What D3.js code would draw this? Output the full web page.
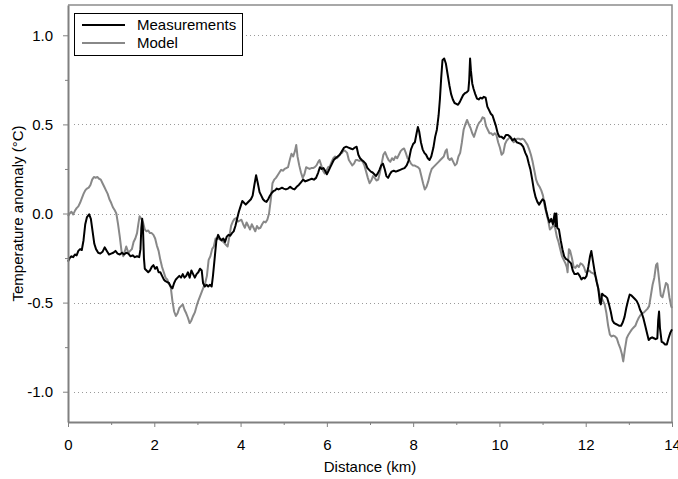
<!DOCTYPE html>
<html>
<head>
<meta charset="utf-8">
<script src="https://cdn.jsdelivr.net/npm/d3@7"></script>
<style>
  html, body { margin: 0; padding: 0; background: #fff; }
  svg { display: block; font-family: "Liberation Sans", Arial, sans-serif; }
</style>
</head>
<body>
<svg id="chart" width="678" height="479"></svg>
<script>
// Temperature anomaly along the transect: [distance km, anomaly °C]
const measurements = [
  [0.00,-0.27],[0.04,-0.25],[0.08,-0.24],[0.12,-0.245],[0.16,-0.23],[0.20,-0.235],[0.24,-0.21],[0.28,-0.20],
  [0.32,-0.205],[0.36,-0.15],[0.40,-0.06],[0.44,-0.02],[0.49,-0.005],[0.53,-0.03],[0.57,-0.10],[0.61,-0.17],
  [0.65,-0.20],[0.70,-0.22],[0.75,-0.225],[0.80,-0.215],[0.85,-0.19],[0.90,-0.21],[0.95,-0.23],[1.00,-0.225],
  [1.05,-0.22],[1.10,-0.21],[1.15,-0.225],[1.20,-0.23],[1.25,-0.22],[1.30,-0.23],[1.35,-0.22],[1.40,-0.225],
  [1.45,-0.24],[1.50,-0.235],[1.55,-0.245],[1.60,-0.24],[1.65,-0.245],[1.68,-0.20],[1.70,-0.08],[1.72,-0.03],
  [1.74,-0.10],[1.76,-0.25],[1.78,-0.31],[1.82,-0.32],[1.86,-0.33],[1.90,-0.32],[1.94,-0.30],[1.98,-0.29],
  [2.02,-0.31],[2.06,-0.30],[2.10,-0.33],[2.14,-0.33],[2.18,-0.35],[2.22,-0.37],[2.26,-0.38],[2.30,-0.385],
  [2.34,-0.39],[2.38,-0.41],[2.42,-0.42],[2.46,-0.39],[2.50,-0.37],[2.54,-0.36],[2.58,-0.35],[2.62,-0.36],
  [2.66,-0.34],[2.70,-0.36],[2.74,-0.35],[2.78,-0.33],[2.82,-0.36],[2.86,-0.32],[2.90,-0.34],[2.94,-0.36],
  [2.98,-0.34],[3.02,-0.33],[3.06,-0.31],[3.10,-0.32],[3.13,-0.39],[3.17,-0.41],[3.21,-0.40],[3.25,-0.41],
  [3.29,-0.40],[3.33,-0.41],[3.36,-0.35],[3.40,-0.25],[3.44,-0.15],[3.48,-0.12],[3.52,-0.14],[3.56,-0.15],
  [3.60,-0.14],[3.64,-0.16],[3.68,-0.13],[3.72,-0.12],[3.76,-0.125],[3.80,-0.11],[3.84,-0.10],[3.88,-0.07],
  [3.92,-0.03],[3.96,0.01],[4.00,0.04],[4.04,0.07],[4.08,0.06],[4.12,0.05],[4.16,0.06],[4.20,0.07],
  [4.24,0.08],[4.28,0.10],[4.32,0.16],[4.36,0.215],[4.40,0.17],[4.44,0.12],[4.48,0.10],[4.52,0.08],
  [4.56,0.07],[4.60,0.065],[4.64,0.08],[4.68,0.10],[4.72,0.115],[4.76,0.125],[4.80,0.13],[4.84,0.14],
  [4.88,0.135],[4.92,0.14],[4.96,0.145],[5.00,0.14],[5.05,0.135],[5.10,0.14],[5.15,0.15],[5.20,0.14],
  [5.25,0.135],[5.30,0.15],[5.35,0.16],[5.40,0.175],[5.45,0.19],[5.50,0.18],[5.55,0.185],[5.60,0.19],
  [5.65,0.195],[5.70,0.19],[5.75,0.20],[5.80,0.23],[5.84,0.26],[5.88,0.25],[5.92,0.255],[5.96,0.24],
  [6.00,0.22],[6.04,0.24],[6.08,0.26],[6.12,0.28],[6.16,0.30],[6.20,0.31],[6.25,0.32],[6.30,0.33],
  [6.35,0.35],[6.40,0.37],[6.45,0.375],[6.50,0.37],[6.55,0.365],[6.60,0.36],[6.65,0.37],[6.69,0.375],
  [6.73,0.33],[6.77,0.31],[6.81,0.30],[6.86,0.29],[6.90,0.28],[6.94,0.255],[6.98,0.245],[7.02,0.235],
  [7.06,0.23],[7.10,0.22],[7.14,0.21],[7.18,0.225],[7.22,0.245],[7.26,0.27],[7.30,0.28],[7.34,0.25],
  [7.38,0.21],[7.42,0.20],[7.46,0.22],[7.50,0.235],[7.55,0.24],[7.60,0.235],[7.65,0.24],[7.70,0.245],
  [7.75,0.25],[7.80,0.255],[7.85,0.27],[7.90,0.30],[7.95,0.36],[8.00,0.39],[8.04,0.40],[8.08,0.45],
  [8.11,0.485],[8.14,0.46],[8.18,0.40],[8.22,0.36],[8.26,0.34],[8.30,0.33],[8.34,0.31],[8.38,0.30],
  [8.42,0.32],[8.47,0.37],[8.51,0.43],[8.55,0.47],[8.59,0.55],[8.62,0.64],[8.65,0.76],[8.68,0.86],
  [8.72,0.87],[8.76,0.84],[8.80,0.78],[8.84,0.72],[8.88,0.67],[8.92,0.64],[8.96,0.62],[9.00,0.615],
  [9.04,0.61],[9.08,0.625],[9.12,0.645],[9.16,0.665],[9.20,0.675],[9.24,0.68],[9.28,0.69],[9.30,0.75],
  [9.32,0.87],[9.34,0.80],[9.37,0.73],[9.40,0.70],[9.44,0.67],[9.48,0.645],[9.52,0.64],[9.56,0.65],
  [9.60,0.645],[9.64,0.655],[9.68,0.65],[9.72,0.60],[9.76,0.58],[9.80,0.56],[9.84,0.55],[9.88,0.52],
  [9.92,0.49],[9.96,0.45],[10.00,0.43],[10.05,0.43],[10.10,0.42],[10.15,0.44],[10.20,0.44],[10.25,0.43],
  [10.30,0.41],[10.35,0.42],[10.40,0.40],[10.45,0.395],[10.50,0.39],[10.55,0.375],[10.60,0.34],[10.64,0.32],
  [10.68,0.28],[10.72,0.245],[10.76,0.19],[10.80,0.13],[10.84,0.09],[10.88,0.065],[10.92,0.05],[10.96,0.065],
  [11.00,0.08],[11.04,0.07],[11.08,0.02],[11.12,-0.02],[11.16,-0.05],[11.20,-0.03],[11.24,-0.06],[11.28,0.00],
  [11.30,-0.07],[11.32,0.00],[11.34,-0.08],[11.38,-0.09],[11.42,-0.15],[11.46,-0.20],[11.50,-0.24],[11.54,-0.255],
  [11.58,-0.26],[11.62,-0.27],[11.66,-0.28],[11.70,-0.32],[11.74,-0.34],[11.78,-0.34],[11.82,-0.335],[11.86,-0.35],
  [11.90,-0.37],[11.94,-0.36],[11.98,-0.365],[12.02,-0.35],[12.06,-0.30],[12.10,-0.24],[12.13,-0.21],[12.17,-0.27],
  [12.21,-0.33],[12.25,-0.38],[12.29,-0.42],[12.33,-0.50],[12.35,-0.51],[12.38,-0.45],[12.42,-0.46],[12.46,-0.465],
  [12.50,-0.475],[12.54,-0.51],[12.58,-0.55],[12.62,-0.60],[12.66,-0.615],[12.70,-0.62],[12.74,-0.625],[12.78,-0.63],
  [12.82,-0.63],[12.86,-0.61],[12.90,-0.58],[12.94,-0.53],[12.98,-0.49],[13.02,-0.455],[13.06,-0.46],[13.10,-0.47],
  [13.14,-0.48],[13.18,-0.49],[13.22,-0.51],[13.26,-0.54],[13.30,-0.56],[13.34,-0.59],[13.38,-0.63],[13.42,-0.67],
  [13.46,-0.71],[13.50,-0.70],[13.54,-0.695],[13.58,-0.70],[13.62,-0.705],[13.66,-0.70],[13.68,-0.60],[13.70,-0.55],
  [13.72,-0.64],[13.76,-0.72],[13.80,-0.725],[13.84,-0.735],[13.88,-0.735],[13.92,-0.70],[13.96,-0.67],[14.00,-0.65]
];

const model = [
  [0.00,-0.015],[0.04,0.00],[0.08,0.01],[0.12,-0.005],[0.16,0.015],[0.20,0.03],[0.24,0.04],[0.28,0.06],
  [0.32,0.085],[0.36,0.11],[0.40,0.13],[0.44,0.14],[0.48,0.145],[0.52,0.16],[0.56,0.19],[0.60,0.205],
  [0.64,0.20],[0.68,0.205],[0.72,0.195],[0.76,0.19],[0.80,0.17],[0.84,0.15],[0.88,0.13],[0.92,0.11],
  [0.96,0.08],[1.00,0.06],[1.04,0.035],[1.08,0.02],[1.12,0.00],[1.16,-0.06],[1.20,-0.13],[1.24,-0.21],
  [1.28,-0.24],[1.32,-0.21],[1.35,-0.185],[1.40,-0.22],[1.44,-0.21],[1.48,-0.20],[1.52,-0.16],[1.56,-0.14],
  [1.60,-0.11],[1.63,-0.06],[1.66,-0.015],[1.70,-0.03],[1.74,-0.05],[1.78,-0.09],[1.82,-0.10],[1.86,-0.095],
  [1.90,-0.11],[1.94,-0.11],[1.98,-0.12],[2.02,-0.14],[2.06,-0.18],[2.10,-0.21],[2.14,-0.26],[2.18,-0.30],
  [2.22,-0.33],[2.26,-0.36],[2.30,-0.37],[2.34,-0.395],[2.38,-0.41],[2.42,-0.49],[2.46,-0.55],[2.50,-0.575],
  [2.54,-0.56],[2.58,-0.53],[2.62,-0.52],[2.66,-0.51],[2.70,-0.54],[2.74,-0.56],[2.78,-0.585],[2.82,-0.615],
  [2.86,-0.60],[2.90,-0.575],[2.94,-0.555],[2.98,-0.52],[3.02,-0.49],[3.06,-0.465],[3.10,-0.44],[3.14,-0.415],
  [3.18,-0.39],[3.22,-0.35],[3.26,-0.26],[3.30,-0.24],[3.34,-0.20],[3.38,-0.185],[3.42,-0.14],[3.46,-0.145],
  [3.50,-0.14],[3.54,-0.15],[3.58,-0.155],[3.62,-0.165],[3.66,-0.175],[3.70,-0.185],[3.74,-0.13],[3.78,-0.07],
  [3.82,-0.045],[3.86,-0.03],[3.90,-0.026],[3.94,-0.045],[3.98,-0.04],[4.02,-0.035],[4.06,-0.06],[4.10,-0.08],
  [4.14,-0.05],[4.18,-0.07],[4.22,-0.09],[4.26,-0.06],[4.30,-0.08],[4.34,-0.10],[4.38,-0.07],[4.42,-0.085],
  [4.46,-0.08],[4.50,-0.06],[4.54,-0.045],[4.58,-0.05],[4.62,-0.035],[4.66,0.00],[4.70,0.077],[4.74,0.17],
  [4.78,0.19],[4.82,0.20],[4.86,0.215],[4.90,0.23],[4.94,0.245],[4.98,0.24],[5.02,0.25],[5.06,0.255],
  [5.10,0.26],[5.14,0.30],[5.18,0.335],[5.22,0.32],[5.26,0.35],[5.29,0.385],[5.32,0.32],[5.36,0.27],
  [5.40,0.23],[5.44,0.20],[5.48,0.22],[5.52,0.26],[5.56,0.255],[5.60,0.25],[5.64,0.255],[5.68,0.255],
  [5.72,0.26],[5.76,0.27],[5.80,0.29],[5.83,0.30],[5.87,0.27],[5.91,0.24],[5.95,0.225],[5.99,0.24],
  [6.03,0.26],[6.07,0.265],[6.11,0.29],[6.15,0.31],[6.19,0.32],[6.23,0.31],[6.27,0.32],[6.31,0.335],
  [6.35,0.34],[6.39,0.355],[6.43,0.35],[6.47,0.34],[6.51,0.30],[6.55,0.285],[6.59,0.27],[6.63,0.28],
  [6.67,0.30],[6.71,0.30],[6.75,0.295],[6.79,0.30],[6.83,0.29],[6.87,0.27],[6.91,0.235],[6.95,0.20],
  [6.99,0.17],[7.03,0.185],[7.07,0.21],[7.11,0.20],[7.15,0.185],[7.19,0.19],[7.23,0.23],[7.27,0.28],
  [7.31,0.33],[7.35,0.345],[7.39,0.32],[7.43,0.30],[7.47,0.29],[7.51,0.31],[7.55,0.30],[7.59,0.32],
  [7.63,0.31],[7.67,0.33],[7.71,0.35],[7.75,0.36],[7.79,0.365],[7.83,0.34],[7.87,0.31],[7.91,0.30],
  [7.95,0.28],[7.99,0.27],[8.03,0.27],[8.07,0.265],[8.11,0.26],[8.15,0.25],[8.19,0.21],[8.23,0.17],
  [8.27,0.135],[8.31,0.15],[8.35,0.18],[8.39,0.22],[8.43,0.25],[8.47,0.26],[8.51,0.27],[8.55,0.28],
  [8.59,0.29],[8.63,0.30],[8.67,0.31],[8.71,0.32],[8.75,0.35],[8.78,0.36],[8.81,0.31],[8.85,0.30],
  [8.89,0.31],[8.93,0.29],[8.97,0.27],[9.01,0.28],[9.05,0.32],[9.09,0.34],[9.13,0.40],[9.17,0.47],
  [9.21,0.50],[9.25,0.525],[9.29,0.50],[9.33,0.48],[9.37,0.45],[9.41,0.43],[9.45,0.46],[9.49,0.49],
  [9.53,0.51],[9.57,0.52],[9.61,0.54],[9.65,0.535],[9.69,0.49],[9.73,0.47],[9.77,0.45],[9.81,0.45],
  [9.85,0.44],[9.89,0.45],[9.93,0.44],[9.97,0.40],[10.01,0.37],[10.05,0.33],[10.09,0.34],[10.13,0.39],
  [10.17,0.41],[10.21,0.42],[10.25,0.43],[10.29,0.42],[10.33,0.40],[10.37,0.41],[10.41,0.42],[10.45,0.42],
  [10.49,0.415],[10.53,0.42],[10.57,0.415],[10.61,0.40],[10.65,0.385],[10.69,0.36],[10.73,0.33],[10.77,0.29],
  [10.81,0.24],[10.85,0.19],[10.89,0.165],[10.93,0.15],[10.97,0.13],[11.01,0.10],[11.05,0.04],[11.09,0.00],
  [11.13,-0.04],[11.17,-0.09],[11.21,-0.08],[11.25,-0.065],[11.29,-0.08],[11.33,-0.13],[11.37,-0.16],[11.41,-0.20],
  [11.45,-0.24],[11.49,-0.26],[11.53,-0.28],[11.56,-0.30],[11.58,-0.33],[11.61,-0.20],[11.64,-0.21],[11.68,-0.25],
  [11.72,-0.30],[11.76,-0.305],[11.80,-0.29],[11.84,-0.30],[11.88,-0.28],[11.92,-0.285],[11.96,-0.30],[12.00,-0.33],
  [12.04,-0.325],[12.08,-0.32],[12.12,-0.33],[12.16,-0.335],[12.20,-0.34],[12.24,-0.36],[12.28,-0.41],[12.32,-0.45],
  [12.36,-0.47],[12.40,-0.49],[12.44,-0.51],[12.48,-0.56],[12.52,-0.63],[12.56,-0.68],[12.60,-0.69],[12.64,-0.685],
  [12.68,-0.69],[12.72,-0.70],[12.76,-0.73],[12.80,-0.755],[12.84,-0.79],[12.87,-0.83],[12.91,-0.76],[12.95,-0.70],
  [12.99,-0.68],[13.03,-0.665],[13.07,-0.65],[13.11,-0.64],[13.15,-0.63],[13.19,-0.605],[13.23,-0.585],[13.27,-0.57],
  [13.31,-0.56],[13.35,-0.555],[13.39,-0.545],[13.43,-0.535],[13.47,-0.52],[13.51,-0.46],[13.55,-0.40],[13.59,-0.36],
  [13.63,-0.29],[13.66,-0.28],[13.70,-0.37],[13.74,-0.46],[13.78,-0.47],[13.82,-0.43],[13.86,-0.39],[13.90,-0.40],
  [13.94,-0.47],[13.98,-0.52],[14.00,-0.53]
];

const seriesNames = ["Measurements", "Model"];
const xMajorTicks = [0, 2, 4, 6, 8, 10, 12, 14];
const xMinorTicks = [1, 3, 5, 7, 9, 11, 13];
const yMajorTicks = [-1.0, -0.5, 0.0, 0.5, 1.0];
const yMinorTicks = [-0.75, -0.25, 0.25, 0.75];
const xDomain = [0, 14];
const yDomain = [-1.17, 1.17];

const W = 678, H = 479;
const margin = { top: 5, right: 6, bottom: 57, left: 68 };
const fontSize = 15;
const svg = d3.select("#chart");

const x = d3.scaleLinear().domain(xDomain).range([margin.left, W - margin.right]);
const y = d3.scaleLinear().domain(yDomain).range([H - margin.bottom, margin.top]);

const axisGrey = "#808080";
const seriesColors = ["#000000", "#888888"];
// plain hyphen for negative tick values
const yFormat = d => d3.format(".1f")(d).replace("\u2212", "-");

// Plot frame (top and right edges)
svg.append("path")
  .attr("d", `M${x(0)},${y(yDomain[1])}H${x(14)}V${y(yDomain[0])}`)
  .attr("fill", "none").attr("stroke", "#8c8c8c").attr("stroke-width", 1.5);

// Dotted horizontal grid at major y ticks
svg.append("g").selectAll("line").data(yMajorTicks).join("line")
  .attr("x1", x(0) + 6).attr("x2", x(14) - 2)
  .attr("y1", d => Math.round(y(d)) + 0.5).attr("y2", d => Math.round(y(d)) + 0.5)
  .attr("stroke", "#9a9a9a").attr("stroke-width", 1).attr("stroke-dasharray", "1,3");

// Series lines: model underneath, measurements on top
const line = d3.line().x(d => x(d[0])).y(d => y(d[1]));
[[model, seriesColors[1]], [measurements, seriesColors[0]]].forEach(([data, color]) => {
  svg.append("path").datum(data)
    .attr("fill", "none")
    .attr("stroke", color)
    .attr("stroke-width", 2)
    .attr("stroke-linejoin", "round")
    .attr("d", line);
});

// Axes
function styleAxis(g) {
  g.select(".domain").attr("stroke", axisGrey).attr("stroke-width", 2);
  g.selectAll(".tick line").attr("stroke", axisGrey).attr("stroke-width", 1);
  g.selectAll(".tick text").attr("fill", "#000").attr("font-size", fontSize)
    .attr("font-family", "'Liberation Sans', Arial, sans-serif");
}

svg.append("g").attr("transform", `translate(${x(0)},0)`)
  .call(d3.axisLeft(y).tickValues(yMajorTicks).tickFormat(yFormat).tickSize(5).tickPadding(10).tickSizeOuter(0))
  .call(styleAxis);
svg.append("g").attr("transform", `translate(${x(0)},0)`)
  .call(d3.axisLeft(y).tickValues(yMinorTicks).tickFormat("").tickSize(3).tickSizeOuter(0))
  .call(g => { g.select(".domain").remove(); g.selectAll(".tick line").attr("stroke", axisGrey); });

svg.append("g").attr("transform", `translate(0,${y(yDomain[0])})`)
  .call(d3.axisBottom(x).tickValues(xMajorTicks).tickFormat(d3.format("d")).tickSize(5).tickPadding(12).tickSizeOuter(0))
  .call(styleAxis);
svg.append("g").attr("transform", `translate(0,${y(yDomain[0])})`)
  .call(d3.axisBottom(x).tickValues(xMinorTicks).tickFormat("").tickSize(3).tickSizeOuter(0))
  .call(g => { g.select(".domain").remove(); g.selectAll(".tick line").attr("stroke", axisGrey); });

// Axis titles
svg.append("text")
  .attr("x", (x(0) + x(14)) / 2).attr("y", 472)
  .attr("text-anchor", "middle").attr("font-size", fontSize)
  .text("Distance (km)");
svg.append("text")
  .attr("transform", `translate(23,${(y(yDomain[0]) + y(yDomain[1])) / 2}) rotate(-90)`)
  .attr("text-anchor", "middle").attr("font-size", fontSize)
  .text("Temperature anomaly (°C)");

// Legend
const legend = svg.append("g");
legend.append("rect")
  .attr("x", 74.5).attr("y", 13.5).attr("width", 168).attr("height", 42)
  .attr("fill", "#fff").attr("stroke", "#000").attr("stroke-width", 1);
seriesNames.forEach((name, i) => {
  const ly = 25 + i * 18;
  legend.append("line")
    .attr("x1", 82).attr("x2", 125).attr("y1", ly).attr("y2", ly)
    .attr("stroke", seriesColors[i]).attr("stroke-width", 2);
  legend.append("text")
    .attr("x", 137).attr("y", ly + 5).attr("font-size", fontSize)
    .text(name);
});
</script>
</body>
</html>
